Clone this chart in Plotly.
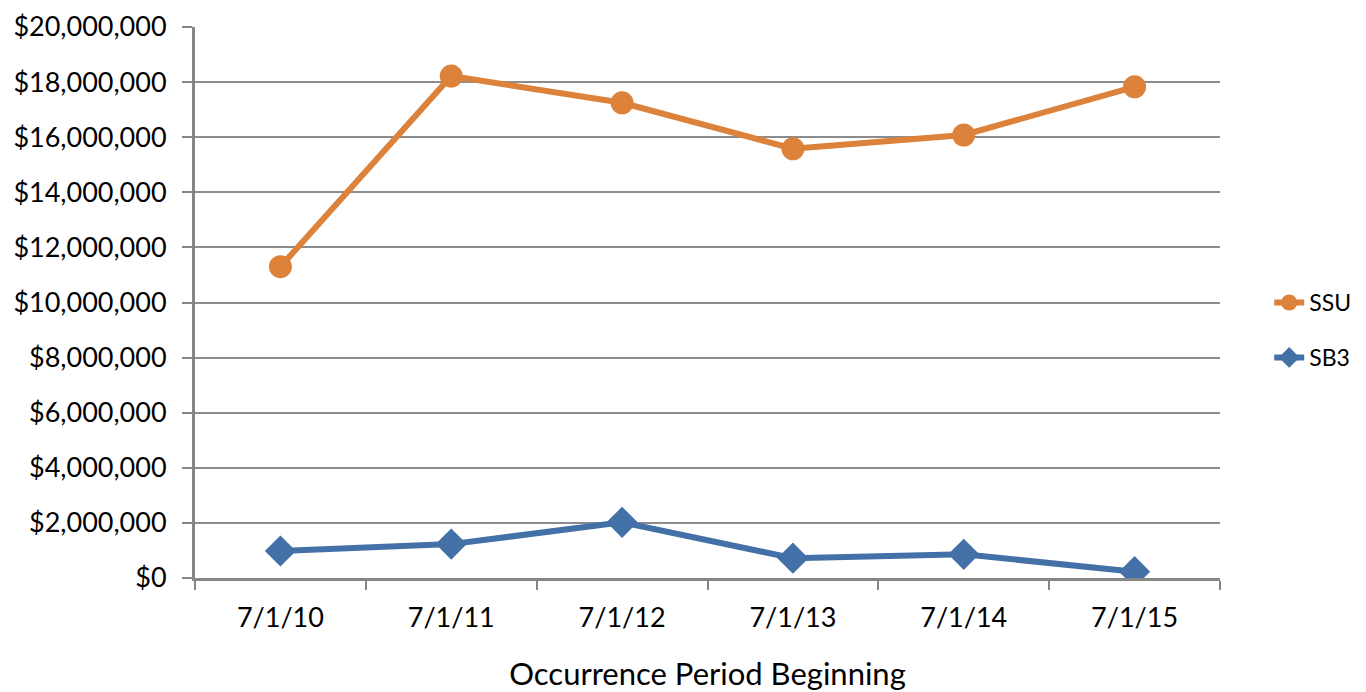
import plotly.graph_objects as go

categories = ["7/1/10", "7/1/11", "7/1/12", "7/1/13", "7/1/14", "7/1/15"]
ssu_values = [11300000, 18220000, 17250000, 15580000, 16080000, 17830000]
sb3_values = [980000, 1230000, 2020000, 720000, 860000, 230000]

ORANGE = "#DC823A"
BLUE = "#4470A8"
GRID = "#8C8C8C"
AXIS = "#868686"
FONT = "Lato, Calibri, Carlito, sans-serif"

fig = go.Figure()
fig.add_trace(go.Scatter(
    x=categories, y=ssu_values, name="SSU", mode="lines+markers",
    line=dict(color=ORANGE, width=6),
    marker=dict(symbol="circle", size=23, color=ORANGE),
    legendgroup="a",
))
fig.add_trace(go.Scatter(
    x=categories, y=sb3_values, name="SB3", mode="lines+markers",
    line=dict(color=BLUE, width=6),
    marker=dict(symbol="diamond", size=24, color=BLUE),
    legendgroup="b",
))

fig.update_layout(
    width=1358, height=684,
    margin=dict(l=187, r=146, t=19, b=114, autoexpand=False),
    paper_bgcolor="white", plot_bgcolor="white",
    font=dict(family=FONT, size=26, color="#000000"),
    showlegend=True,
    legend=dict(
        x=1.048, xanchor="left", y=0.45, yanchor="middle",
        font=dict(size=23), traceorder="grouped", tracegroupgap=22,
        bgcolor="rgba(0,0,0,0)", borderwidth=0,
    ),
    xaxis=dict(
        type="category", range=[-0.5, 5.5], automargin=False,
        showline=True, linecolor=AXIS, linewidth=3,
        ticks="outside", tickson="boundaries", ticklen=9, tickcolor=AXIS, tickwidth=2,
        showgrid=False, tickfont=dict(size=27), ticklabelstandoff=14,
        title=dict(text="Occurrence Period Beginning", font=dict(size=31), standoff=40),
    ),
    yaxis=dict(
        range=[0, 20000000], dtick=2000000, tick0=0, automargin=False,
        tickformat="$,.0f",
        showline=True, linecolor=AXIS, linewidth=3,
        ticks="outside", ticklen=10, tickcolor=AXIS, tickwidth=2,
        showgrid=True, gridcolor=GRID, gridwidth=2,
        zeroline=False, tickfont=dict(size=27), ticklabelstandoff=10,
    ),
)

fig.write_html("out.html")
